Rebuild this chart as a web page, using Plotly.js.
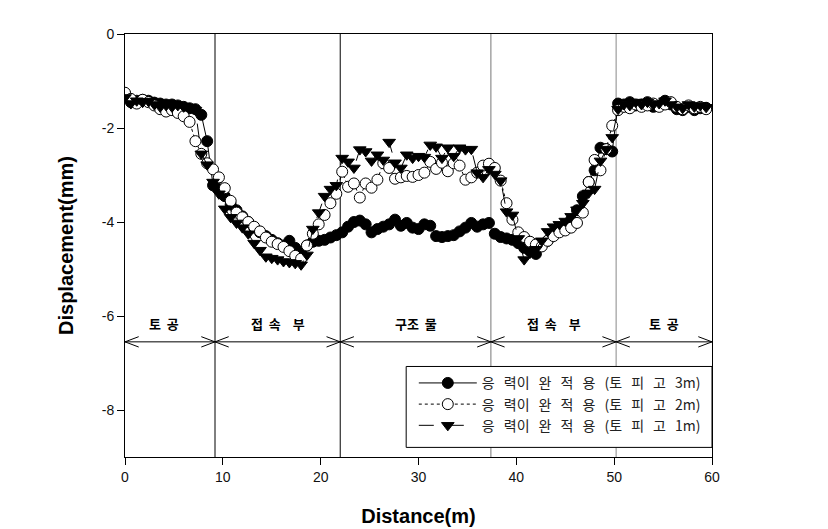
<!DOCTYPE html>
<html>
<head>
<meta charset="utf-8">
<script src="https://cdn.plot.ly/plotly-3.0.1.min.js"></script>
<style>
  html, body { margin: 0; padding: 0; background: #fff; }
  #chart { width: 828px; height: 529px; }
</style>
</head>
<body>
<div id="chart"></div>
<script>
// ---- data ----
const distance = [
  0.0, 0.6, 1.2, 1.8, 2.4, 3.0, 3.6, 4.2, 4.8, 5.4,
  6.0, 6.6, 7.2, 7.8, 8.4, 9.0, 9.6, 10.2, 10.8, 11.4,
  12.0, 12.6, 13.2, 13.8, 14.4, 15.0, 15.6, 16.2, 16.8, 17.4,
  18.0, 18.6, 19.2, 19.8, 20.4, 21.0, 21.6, 22.2, 22.8, 23.4,
  24.0, 24.6, 25.2, 25.8, 26.4, 27.0, 27.6, 28.2, 28.8, 29.4,
  30.0, 30.6, 31.2, 31.8, 32.4, 33.0, 33.6, 34.2, 34.8, 35.4,
  36.0, 36.6, 37.2, 37.8, 38.4, 39.0, 39.6, 40.2, 40.8, 41.4,
  42.0, 42.6, 43.2, 43.8, 44.4, 45.0, 45.6, 46.2, 46.8, 47.4,
  48.0, 48.6, 49.2, 49.8, 50.4, 51.0, 51.6, 52.2, 52.8, 53.4,
  54.0, 54.6, 55.2, 55.8, 56.4, 57.0, 57.6, 58.2, 58.8, 59.4
];

const cover3m = [
  -1.27, -1.45, -1.42, -1.40, -1.42, -1.46, -1.48, -1.50, -1.50, -1.52,
  -1.55, -1.58, -1.60, -1.72, -2.28, -3.22, -3.30, -3.45, -3.63, -3.75,
  -3.88, -4.00, -4.12, -4.22, -4.30, -4.38, -4.45, -4.50, -4.40, -4.55,
  -4.65, -4.50, -4.42, -4.40, -4.38, -4.33, -4.28, -4.22, -4.10, -4.00,
  -3.97, -4.05, -4.22, -4.15, -4.10, -4.05, -3.95, -4.08, -4.02, -4.12,
  -4.15, -4.05, -4.08, -4.30, -4.32, -4.30, -4.28, -4.20, -4.12, -4.02,
  -4.10, -4.05, -4.02, -4.25, -4.32, -4.35, -4.38, -4.45, -4.55, -4.62,
  -4.68, -4.50, -4.40, -4.28, -4.20, -4.10, -3.95, -3.75, -3.45, -3.15,
  -2.90, -2.42, -2.45, -2.50, -1.48, -1.50, -1.45, -1.52, -1.50, -1.45,
  -1.55, -1.52, -1.42, -1.50, -1.60, -1.62, -1.55, -1.62, -1.58, -1.57
];

const cover2m = [
  -1.25, -1.38, -1.48, -1.40, -1.45, -1.52, -1.60, -1.65, -1.62, -1.68,
  -1.75, -1.87, -2.28, -2.55, -2.75, -2.88, -3.05, -3.28, -3.55, -3.80,
  -3.90, -4.00, -4.10, -4.20, -4.33, -4.42, -4.47, -4.53, -4.62, -4.72,
  -4.78, -4.50, -4.25, -4.05, -3.85, -3.60, -3.40, -2.93, -3.25, -3.18,
  -3.48, -3.18, -3.27, -3.10, -2.75, -2.85, -3.08, -3.05, -3.02, -3.04,
  -3.00, -2.95, -2.72, -2.87, -2.74, -2.92, -2.75, -2.80, -3.10, -3.05,
  -2.95, -2.80, -2.76, -2.85, -3.12, -3.60, -3.95, -4.22, -4.32, -4.42,
  -4.48, -4.52, -4.40, -4.30, -4.22, -4.18, -4.12, -4.02, -3.80, -3.15,
  -2.68, -2.90, -2.45, -1.95, -1.62, -1.55, -1.58, -1.50, -1.55, -1.52,
  -1.48, -1.55, -1.50, -1.45, -1.55, -1.60, -1.52, -1.58, -1.55, -1.60
];

const cover1m = [
  -1.35, -1.48, -1.42, -1.45, -1.43, -1.50, -1.55, -1.52, -1.55, -1.52,
  -1.55, -1.57, -1.62, -2.55, -2.78, -3.15, -3.40, -3.72, -3.90, -4.02,
  -4.12, -4.25, -4.45, -4.60, -4.74, -4.77, -4.80, -4.84, -4.86, -4.88,
  -4.91, -4.70, -4.15, -3.80, -3.45, -3.30, -3.22, -2.64, -2.72, -2.85,
  -2.46, -2.50, -2.70, -2.57, -2.68, -2.30, -2.74, -2.85, -2.57, -2.64,
  -2.60, -2.62, -2.36, -2.40, -2.64, -2.42, -2.60, -2.42, -2.46, -2.45,
  -2.95, -3.05, -2.88, -2.98, -3.12, -3.78, -3.85, -4.35, -4.80, -4.66,
  -4.58, -4.40, -4.20, -4.10, -4.05, -3.98, -3.88, -3.74, -3.60, -3.38,
  -3.30, -2.70, -2.45, -2.20, -1.60, -1.50, -1.52, -1.45, -1.50, -1.45,
  -1.50, -1.48, -1.42, -1.50, -1.55, -1.58, -1.50, -1.55, -1.52, -1.56
];

const S = '\u00a0\u2009 ';
const seriesNames = [
  '응' + S + '력이' + S + '완' + S + '적' + S + '용' + S + '(토' + S + '피' + S + '고' + S + '3m)',
  '응' + S + '력이' + S + '완' + S + '적' + S + '용' + S + '(토' + S + '피' + S + '고' + S + '2m)',
  '응' + S + '력이' + S + '완' + S + '적' + S + '용' + S + '(토' + S + '피' + S + '고' + S + '1m)'
];

// zones along the alignment
const zoneBounds = [0, 9.2, 22.0, 37.4, 50.2, 60];
const zoneLabels = ['토\u00a0 공', '접\u00a0 속\u00a0 \u00a0 부', '구조\u00a0 물', '접\u00a0 속\u00a0 \u00a0 부', '토\u00a0 공'];
const zoneLabelX = [4.0, 15.6, 29.7, 43.8, 55.1];
const dividerX = [9.2, 22.0, 37.4, 50.2];
const dividerColor = ['#000000', '#000000', '#777777', '#888888'];
const arrowY = -6.55;
const labelY = -6.15;

const xTicks = [0, 10, 20, 30, 40, 50, 60];
const yTicks = [0, -2, -4, -6, -8];

// ---- traces ----
const traces = [
  {
    x: distance, y: cover3m, name: seriesNames[0], type: 'scatter', mode: 'lines+markers',
    line: { color: '#000', width: 1, dash: 'solid' },
    marker: { symbol: 'circle', size: 11, color: '#000', line: { color: '#000', width: 1 } }
  },
  {
    x: distance, y: cover2m, name: seriesNames[1], type: 'scatter', mode: 'lines+markers',
    line: { color: '#000', width: 1, dash: 'dot' },
    marker: { symbol: 'circle', size: 11, color: '#fff', line: { color: '#000', width: 1 } }
  },
  {
    x: distance, y: cover1m, name: seriesNames[2], type: 'scatter', mode: 'lines+markers',
    line: { color: '#000', width: 1, dash: 'longdash' },
    marker: { symbol: 'triangle-down', size: 11, color: '#000', line: { color: '#000', width: 1 } }
  }
];

// ---- shapes ----
const shapes = [];
dividerX.forEach((xv, i) => {
  shapes.push({ type: 'line', xref: 'x', yref: 'paper', x0: xv, x1: xv, y0: 0, y1: 1,
    line: { color: dividerColor[i], width: 1 }, layer: 'below' });
});
shapes.push({ type: 'line', xref: 'x', yref: 'y', x0: zoneBounds[0], x1: zoneBounds[zoneBounds.length - 1],
  y0: arrowY, y1: arrowY, line: { color: '#000', width: 1 }, layer: 'below' });
const headLen = 1.4, headHalf = 0.11;
for (let i = 0; i < zoneBounds.length - 1; i++) {
  const a = zoneBounds[i], b = zoneBounds[i + 1];
  shapes.push({ type: 'path', xref: 'x', yref: 'y',
    path: `M ${a + headLen},${arrowY + headHalf} L ${a},${arrowY} L ${a + headLen},${arrowY - headHalf}`,
    line: { color: '#000', width: 1 }, layer: 'below' });
  shapes.push({ type: 'path', xref: 'x', yref: 'y',
    path: `M ${b - headLen},${arrowY + headHalf} L ${b},${arrowY} L ${b - headLen},${arrowY - headHalf}`,
    line: { color: '#000', width: 1 }, layer: 'below' });
}
// legend box
shapes.push({ type: 'rect', xref: 'paper', yref: 'paper', x0: 0.479, x1: 1.0, y0: 0.0227, y1: 0.214,
  fillcolor: '#fff', line: { color: '#000', width: 1 }, layer: 'above' });

const annotations = zoneLabels.map((t, i) => ({
  x: zoneLabelX[i], y: labelY, xref: 'x', yref: 'y', text: '<b>' + t + '</b>', showarrow: false,
  font: { family: 'Noto Sans CJK KR', size: 13, color: '#000' }
}));

const layout = {
  width: 828, height: 529,
  margin: { l: 125, r: 116, t: 34, b: 72 },
  paper_bgcolor: '#fff', plot_bgcolor: '#fff',
  showlegend: true,
  legend: {
    x: 0.492, y: 0.212, xanchor: 'left', yanchor: 'top',
    bgcolor: 'rgba(0,0,0,0)', borderwidth: 0, itemwidth: 58,
    font: { family: 'Noto Sans CJK KR', size: 14, color: '#222' },
    traceorder: 'normal'
  },
  xaxis: {
    range: [0, 60], tickvals: xTicks, ticktext: xTicks.map(String),
    ticks: 'outside', ticklen: 7, tickwidth: 1, tickcolor: '#000',
    showline: true, linecolor: '#000', linewidth: 1, mirror: true,
    showgrid: false, zeroline: false,
    tickfont: { family: 'Liberation Sans, Arial, sans-serif', size: 14, color: '#111' },
    title: { text: '<b>Distance(m)</b>', standoff: 25,
      font: { family: 'Liberation Sans, Arial, sans-serif', size: 20, color: '#000' } }
  },
  yaxis: {
    range: [-9, 0], tickvals: yTicks, ticktext: yTicks.map(String),
    ticks: 'outside', ticklen: 7, tickwidth: 1, tickcolor: '#000',
    showline: true, linecolor: '#000', linewidth: 1, mirror: true,
    showgrid: false, zeroline: false,
    tickfont: { family: 'Liberation Sans, Arial, sans-serif', size: 14, color: '#111' },
    title: { text: '<b>Displacement(mm)</b>', standoff: 22,
      font: { family: 'Liberation Sans, Arial, sans-serif', size: 20, color: '#000' } }
  },
  shapes: shapes,
  annotations: annotations
};

Plotly.newPlot('chart', traces, layout, { displayModeBar: false, staticPlot: true });
</script>
</body>
</html>
